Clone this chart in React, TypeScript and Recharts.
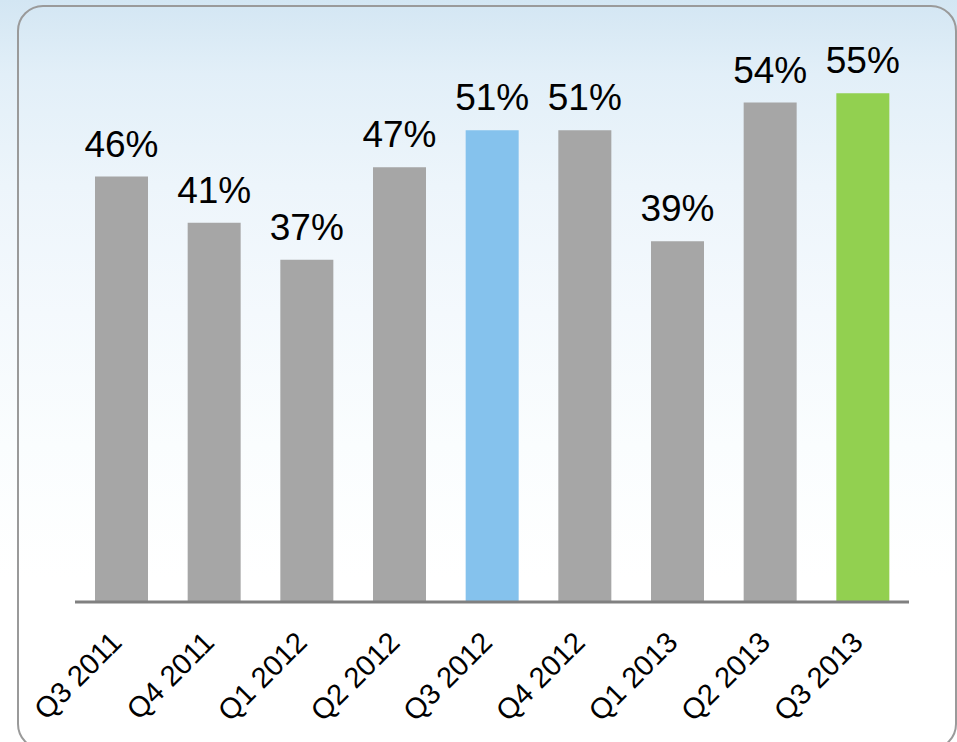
import React from 'react';
import { BarChart, Bar, XAxis, YAxis, Cell, LabelList } from 'recharts';

const quarters = ['Q3 2011', 'Q4 2011', 'Q1 2012', 'Q2 2012', 'Q3 2012', 'Q4 2012', 'Q1 2013', 'Q2 2013', 'Q3 2013'];
const shares = [46, 41, 37, 47, 51, 51, 39, 54, 55];
const barColors = ['#a6a6a6', '#a6a6a6', '#a6a6a6', '#a6a6a6', '#85c2ed', '#a6a6a6', '#a6a6a6', '#a6a6a6', '#92d050'];

const data = quarters.map((q, i) => ({ quarter: q, share: shares[i] }));

const FONT = 'Arial, "Liberation Sans", Helvetica, sans-serif';

const QuarterTick = (props: any) => {
  const { x, y, payload } = props;
  const ax = x + 2;
  const ay = y + 34;
  return (
    <text
      x={ax}
      y={ay}
      textAnchor="end"
      fontSize={29}
      fontFamily={FONT}
      fill="#000"
      transform={`rotate(-45, ${ax}, ${ay})`}
    >
      {payload.value}
    </text>
  );
};

const ValueLabel = (props: any) => {
  const { x, y, width, value } = props;
  return (
    <text
      x={x + width / 2}
      y={y - 20}
      textAnchor="middle"
      fontSize={37}
      fontFamily={FONT}
      fill="#000"
    >
      {`${value}%`}
    </text>
  );
};

export default function App() {
  return (
    <div
      style={{
        position: 'absolute',
        left: 0,
        top: 0,
        width: 957,
        height: 742,
        overflow: 'hidden',
        background:
          'linear-gradient(180deg, #d3e6f3 0%, #e2eff8 10%, #edf5fb 25%, #f4f9fd 42%, #fafdfe 60%, #ffffff 78%, #ffffff 100%)',
      }}
    >
      <div
        style={{
          position: 'absolute',
          left: 17,
          top: 5,
          width: 940,
          height: 745,
          border: '2px solid #9a9a9a',
          borderRadius: 26,
          boxSizing: 'border-box',
        }}
      />
      <div style={{ position: 'absolute', left: 0, top: 0 }}>
        <BarChart
          width={957}
          height={742}
          data={data}
          margin={{ top: 47, right: 48, bottom: 0, left: 75 }}
        >
          <YAxis hide domain={[0, 60]} />
          <XAxis
            dataKey="quarter"
            height={140}
            interval={0}
            tickLine={false}
            axisLine={{ stroke: '#808080', strokeWidth: 3 }}
            tick={<QuarterTick />}
          />
          <Bar dataKey="share" barSize={53} isAnimationActive={false}>
            {data.map((d, i) => (
              <Cell key={d.quarter} fill={barColors[i]} />
            ))}
            <LabelList dataKey="share" content={<ValueLabel />} />
          </Bar>
        </BarChart>
      </div>
    </div>
  );
}
